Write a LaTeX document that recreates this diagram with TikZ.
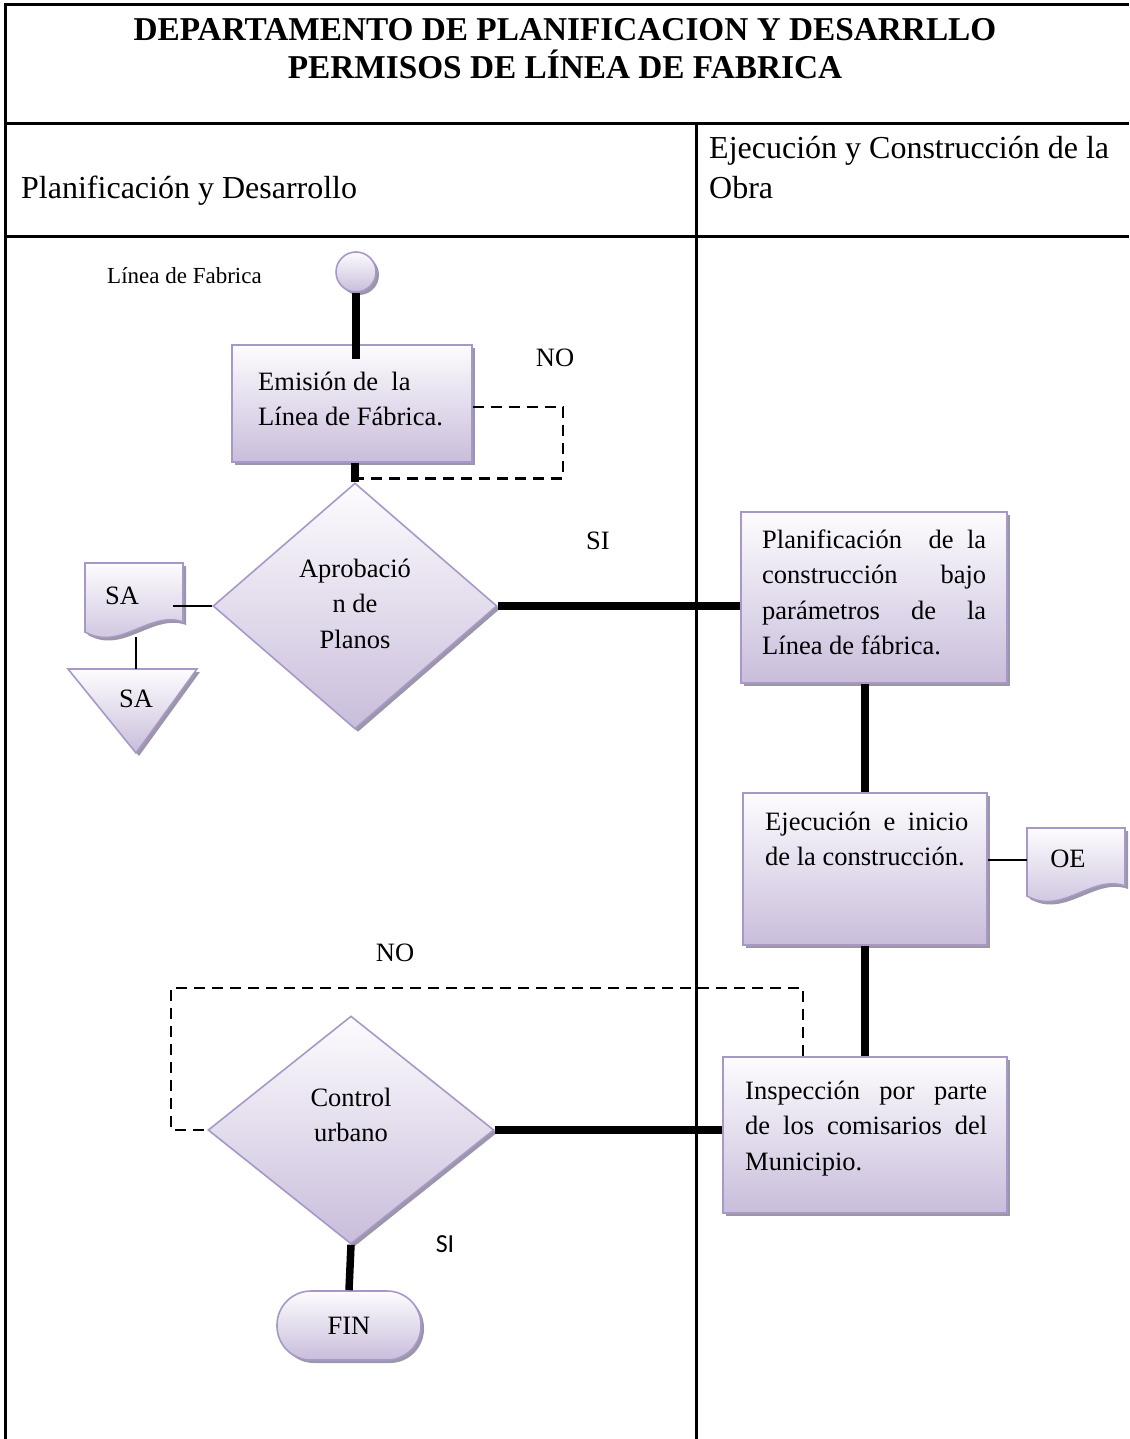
\documentclass[tikz,border=0pt]{standalone}
\usepackage{fontspec}
\setmainfont{Liberation Serif}
\newfontfamily\sifont{Carlito}
\usetikzlibrary{shapes.geometric,shadows}

\definecolor{lavtop}{HTML}{FDFCFE}
\definecolor{lavbot}{HTML}{C9BDDB}
\definecolor{lavedge}{HTML}{A898C8}
\definecolor{shade}{HTML}{9C97A6}

\newcommand\bxfont{\fontsize{26.5}{35.5}\selectfont}
\newcommand\hdfont{\fontsize{32}{40}\selectfont}
\newcommand\ttlfont{\fontsize{33.3}{40}\selectfont}

\begin{document}
\begin{tikzpicture}[x=1pt,y=1pt,
  tbl/.style={line width=3pt},
  heavy/.style={line width=7.5pt},
  slim/.style={line width=2pt},
  loopdash/.style={line width=2.6pt, dash pattern=on 11pt off 7pt},
  flow/.style={top color=lavtop, bottom color=lavbot, draw=lavedge, line width=1.6pt,
    drop shadow={shadow xshift=3pt, shadow yshift=-3pt, fill=shade, opacity=1}},
  procbox/.style={flow, rectangle, inner sep=0},
  decision/.style={flow, diamond, inner sep=0},
  txt/.style={inner sep=0, font=\bxfont}]

\useasboundingbox (0,0) rectangle (1129,-1439);

% table frame
\draw[tbl] (1129,-5) -- (5,-5) -- (5,-1439);
\draw[tbl] (5,-124) -- (1129,-124);
\draw[tbl] (5,-237) -- (1129,-237);
\draw[tbl] (696,-124) -- (696,-1439);

% titles and lane headers
\node[inner sep=0, anchor=base, font=\ttlfont\bfseries] (title1) at (565,-41) {DEPARTAMENTO DE PLANIFICACION Y DESARRLLO};
\node[inner sep=0, anchor=base, font=\ttlfont\bfseries] (title2) at (565,-79) {PERMISOS DE LÍNEA DE FABRICA};
\node[inner sep=0, anchor=base west, font=\hdfont] (laneL) at (21,-199) {Planificación y Desarrollo};
\node[inner sep=0, anchor=base west, font=\hdfont] (laneR1) at (709,-159) {Ejecución y Construcción de la};
\node[inner sep=0, anchor=base west, font=\hdfont] (laneR2) at (709,-199) {Obra};

% shapes
\node[flow, circle, minimum size=40pt, inner sep=0] (start) at (356,-272) {};
\node[procbox, minimum width=240pt, minimum height=117pt] (emit) at (352,-403.5) {};
\node[decision, minimum width=284pt, minimum height=246pt] (aprob) at (355,-606) {};
\node[procbox, minimum width=266pt, minimum height=171pt] (plan) at (874,-597.5) {};
\node[procbox, minimum width=244pt, minimum height=152pt] (ejec) at (865,-869) {};
\node[procbox, minimum width=284pt, minimum height=156pt] (insp) at (865,-1135) {};
\node[decision, minimum width=286pt, minimum height=228pt] (ctrl) at (351,-1130) {};
\node[flow, rectangle, rounded corners=34pt, minimum width=144pt, minimum height=69pt, inner sep=0, font=\bxfont] (fin) at (349,-1325.5) {FIN};

% document and merge symbols
\path[flow] (85,-563) -- (183,-563) -- (183,-622) .. controls (150,-610) and (120,-652) .. (85,-632) -- cycle;
\path[flow] (68,-669) -- (197,-669) -- (136,-753) -- cycle;
\path[flow] (1027,-828) -- (1125,-828) -- (1125,-886) .. controls (1092,-874) and (1062,-916) .. (1027,-896) -- cycle;
\coordinate (saout) at (173,-606);
\coordinate (sabot) at (136,-637);
\coordinate (satop) at (136,-669);
\coordinate (oein) at (1027,-860);

% connectors
\draw[heavy] (start.south) -- ([yshift=-15pt]start.south |- emit.north);
\draw[heavy] (aprob.north |- emit.south) -- (aprob.north);
\draw[heavy] (aprob.east) -- (plan.west |- aprob.east);
\draw[slim] (saout) -- (aprob.west);
\draw[slim] (sabot) -- (satop);
\draw[heavy] (ejec.north |- plan.south) -- (ejec.north);
\draw[slim] (ejec.east |- oein) -- (oein);
\draw[heavy] (ejec.south) -- (ejec.south |- insp.north);
\draw[heavy] (ctrl.east) -- (insp.west |- ctrl.east);
\draw[heavy] (ctrl.south) -- (fin.north);

\coordinate (loopA) at (563,-407);
\draw[loopdash] (emit.east |- loopA) -- (loopA) |- ([yshift=4pt]aprob.north);
\coordinate (loopBR) at (803,-988);
\coordinate (loopBL) at (171,-988);
\draw[loopdash] (loopBR |- insp.north) -- (loopBR) -- (loopBL) |- (ctrl.west);

% texts
\node[txt, anchor=base west, font=\fontsize{23}{28}\selectfont] (lblstart) at (107,-283) {Línea de Fabrica};
\node[txt, anchor=base west] (emittxt) at (258,-390) {\parbox[t]{220pt}{Emisión de\ \ la\\Línea de Fábrica.}};
\node[txt, anchor=base] (no1) at (555,-366) {NO};
\node[txt, anchor=base] (si1) at (598,-549) {SI};
\node[txt, anchor=base] (aprobtxt) at (355,-577) {\parbox[t]{160pt}{\centering Aprobació\\n de\\Planos}};
\node[txt, anchor=base] (sa1) at (122,-604) {SA};
\node[txt, anchor=base] (sa2) at (136,-707) {SA};
\node[txt, anchor=base west] (plantxt) at (762,-548) {\parbox[t]{224pt}{%
  \makebox[224pt][s]{Planificación\ \ de la}\\
  \makebox[224pt][s]{construcción bajo}\\
  \makebox[224pt][s]{parámetros de la}\\
  Línea de fábrica.}};
\node[txt, anchor=base west] (ejectxt) at (765,-830) {\parbox[t]{203pt}{%
  \makebox[203pt][s]{Ejecución e inicio}\\
  de la construcción.}};
\node[txt, anchor=base] (oe) at (1068,-867) {OE};
\node[txt, anchor=base] (no2) at (395,-961) {NO};
\node[txt, anchor=base] (ctrltxt) at (351,-1106) {\parbox[t]{160pt}{\centering Control\\urbano}};
\node[txt, anchor=base west] (insptxt) at (745,-1099) {\parbox[t]{242pt}{%
  \makebox[242pt][s]{Inspección por parte}\\
  \makebox[242pt][s]{de los comisarios del}\\
  Municipio.}};
\node[inner sep=0, anchor=base, font=\sifont\fontsize{26}{30}\selectfont] (si2) at (445,-1252) {SI};
\end{tikzpicture}
\end{document}
